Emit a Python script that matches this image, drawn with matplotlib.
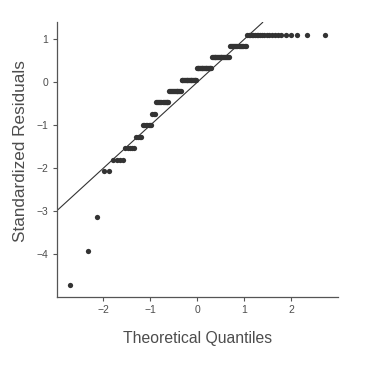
import numpy as np
from statistics import NormalDist
from matplotlib import pyplot as plt

plt.rcParams['font.family'] = ['Liberation Sans', 'DejaVu Sans']

# standardized residual levels (sorted) and how many observations sit on each
resid_levels = [-4.70, -3.91, -3.12, -2.06, -1.80, -1.53, -1.27, -1.00,
                -0.74, -0.47, -0.21, 0.05, 0.32, 0.58, 0.84, 1.10]
resid_counts = [1, 1, 1, 2, 4, 5, 4, 7,
                3, 13, 14, 19, 19, 20, 15, 22]

x_label = "Theoretical Quantiles"
y_label = "Standardized Residuals"

resid = np.repeat(resid_levels, resid_counts)
n = len(resid)

# normal Q-Q: theoretical quantiles at plotting positions (i - 0.5) / n
nd = NormalDist()
theo = np.array([nd.inv_cdf((i - 0.5) / n) for i in range(1, n + 1)])

text_col = "#4d4d4d"

fig = plt.figure(figsize=(3.67, 3.84), dpi=100)
ax = fig.add_axes([0.155, 0.2266, 0.765, 0.715])

ax.plot(theo, resid, "o", color="#333333", markersize=3.8, markeredgewidth=0)
ax.axline((0, 0), slope=1, color="#333333", linewidth=0.8)

ax.spines["top"].set_visible(False)
ax.spines["right"].set_visible(False)
for s in ["left", "bottom"]:
    ax.spines[s].set_color("#555555")
    ax.spines[s].set_linewidth(0.9)

ax.set_xticks([-2, -1, 0, 1, 2])
ax.set_yticks([-4, -3, -2, -1, 0, 1])
ax.tick_params(axis="both", direction="out", length=3, width=0.8,
               color="#555555", labelsize=7.5, labelcolor=text_col, pad=3)

ax.set_xlabel(x_label, fontsize=11.3, color=text_col, labelpad=11)
ax.set_ylabel(y_label, fontsize=12.3, color=text_col)
ax.yaxis.set_label_coords(-0.103, 0.53)

fig.savefig("out.png", dpi=100)
